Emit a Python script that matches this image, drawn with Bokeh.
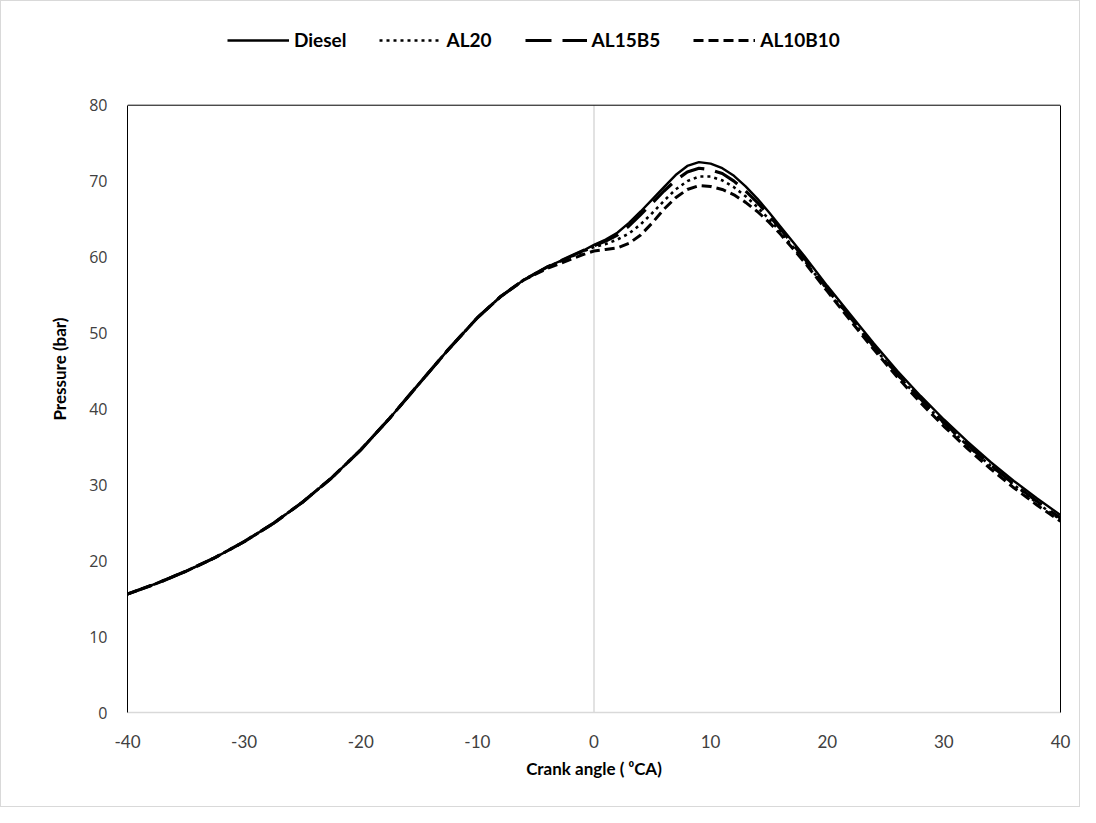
from bokeh.plotting import figure
from bokeh.models import Legend, LegendItem, Span, Range1d, FixedTicker, LinearAxis
from bokeh.embed import file_html
from bokeh.resources import INLINE

# Crank angle (deg CA) and cylinder pressure (bar)
# compression part, shared by all fuels
ca_common = [-40, -37.5, -35, -32.5, -30, -27.5, -25, -22.5, -20, -17.5, -15, -12.5, -10, -8, -6]
p_common = [15.6, 17.0, 18.6, 20.4, 22.5, 24.9, 27.7, 30.9, 34.6, 38.8, 43.3, 47.8, 52.0, 54.8, 57.0]

ca_diesel = [-4, -2, -1, 0, 1, 2, 3, 4, 5, 6, 7, 8, 9, 10, 11, 12, 13, 14, 15, 16, 18, 20, 22, 24, 26, 28, 30, 32, 34, 36, 38, 40]
p_diesel = [58.7, 60.1, 60.8, 61.6, 62.3, 63.2, 64.5, 66.0, 67.6, 69.2, 70.8, 72.0, 72.5, 72.3, 71.7, 70.7, 69.3, 67.7, 65.9, 64.0, 60.2, 56.2, 52.4, 48.6, 45.0, 41.7, 38.6, 35.7, 33.0, 30.5, 28.2, 26.0]

ca_al20 = [-4, -2, -1, 0, 1, 2, 3, 4, 5, 6, 7, 8, 9, 10, 11, 12, 13, 14, 15, 16, 18, 20, 22, 24, 26, 28, 30, 32, 34, 36, 38, 40]
p_al20 = [58.7, 60.0, 60.7, 61.3, 61.7, 62.3, 63.1, 64.3, 65.8, 67.4, 68.9, 70.0, 70.6, 70.6, 70.1, 69.2, 68.0, 66.6, 65.0, 63.3, 59.6, 55.7, 51.9, 48.1, 44.5, 41.2, 38.1, 35.2, 32.5, 30.0, 27.6, 25.4]

ca_al15b5 = [-4, -2, -1, 0, 1, 2, 3, 4, 5, 6, 7, 8, 9, 10, 11, 12, 13, 14, 15, 16, 18, 20, 22, 24, 26, 28, 30, 32, 34, 36, 38, 40]
p_al15b5 = [58.7, 60.1, 60.8, 61.5, 62.1, 62.9, 64.1, 65.6, 67.1, 68.7, 70.1, 71.2, 71.7, 71.5, 71.0, 70.0, 68.7, 67.2, 65.5, 63.7, 59.9, 55.9, 52.0, 48.2, 44.6, 41.3, 38.2, 35.3, 32.6, 30.1, 27.8, 25.6]

ca_al10b10 = [-4, -2, -1, 0, 1, 2, 3, 4, 5, 6, 7, 8, 9, 10, 11, 12, 13, 14, 15, 16, 18, 20, 22, 24, 26, 28, 30, 32, 34, 36, 38, 40]
p_al10b10 = [58.5, 59.7, 60.3, 60.8, 61.0, 61.2, 61.8, 62.9, 64.5, 66.3, 67.8, 68.9, 69.4, 69.3, 68.9, 68.2, 67.2, 66.0, 64.6, 63.0, 59.4, 55.5, 51.6, 47.8, 44.2, 40.8, 37.7, 34.8, 32.1, 29.6, 27.3, 25.2]

series_names = ["Diesel", "AL20", "AL15B5", "AL10B10"]
x_ticks = [-40, -30, -20, -10, 0, 10, 20, 30, 40]
y_ticks = [0, 10, 20, 30, 40, 50, 60, 70, 80]
Y_MIN, Y_MAX = 0, 80

FONT = "Lato"

# frame extends above y=80 to hold the legend; the plot box is drawn at 0..80
p = figure(width=1080, height=807, output_backend="svg", toolbar_location=None,
           x_range=Range1d(-40, 40), y_range=Range1d(0, 90.5),
           min_border_left=126, min_border_right=21, min_border_top=24, min_border_bottom=96)
p.styles = {"border": "1px solid #d9d9d9", "box-sizing": "border-box"}

p.xgrid.visible = False
p.ygrid.visible = False
p.outline_line_color = None
p.background_fill_color = "white"
p.border_fill_color = "white"

# vertical value axis line at x=0 (Excel style), limited to the plot box
p.segment(x0=[0], y0=[Y_MIN], x1=[0], y1=[Y_MAX], line_color="#d9d9d9", line_width=1.5)
# top edge of the plot box
p.add_layout(Span(location=Y_MAX, dimension="width", line_color="black", line_width=1))

def full(ca, pr):
    return ca_common + ca, p_common + pr

x4, y4 = full(ca_al10b10, p_al10b10)
r4 = p.line(x4, y4, line_color="black", line_width=3, line_dash="10 5")
x3, y3 = full(ca_al15b5, p_al15b5)
r3 = p.line(x3, y3, line_color="black", line_width=3.2, line_dash="26 11")
x2, y2 = full(ca_al20, p_al20)
r2 = p.line(x2, y2, line_color="black", line_width=2.6, line_dash="3 4")
x1, y1 = full(ca_diesel, p_diesel)
r1 = p.line(x1, y1, line_color="black", line_width=2.4)

legend = Legend(items=[LegendItem(label=series_names[0], renderers=[r1]),
                       LegendItem(label=series_names[1], renderers=[r2]),
                       LegendItem(label=series_names[2], renderers=[r3]),
                       LegendItem(label=series_names[3], renderers=[r4])],
                orientation="horizontal", location=(100, 661),
                label_text_font=FONT, label_text_font_style="bold",
                label_text_font_size="19px", label_text_color="black",
                glyph_width=62, glyph_height=20, label_standoff=5, spacing=33,
                border_line_color=None, background_fill_alpha=0, padding=2, margin=0)
p.add_layout(legend, "center")

# axes
for ax in (p.xaxis[0], p.yaxis[0]):
    ax.axis_label_text_font = FONT
    ax.axis_label_text_font_style = "bold"
    ax.axis_label_text_font_size = "17px"
    ax.axis_label_text_color = "black"
    ax.major_tick_line_color = None
    ax.minor_tick_line_color = None
    ax.major_label_text_color = "#404040"

p.xaxis.major_label_text_font = FONT
p.xaxis.major_label_text_font_size = "17px"
p.yaxis.major_label_text_font = "Open Sans"
p.yaxis.major_label_text_font_size = "16px"

p.xaxis.ticker = FixedTicker(ticks=x_ticks)
p.yaxis.ticker = FixedTicker(ticks=y_ticks)
p.yaxis.bounds = (Y_MIN, Y_MAX)
p.xaxis.major_label_overrides = {t: str(t) for t in x_ticks}
p.xaxis.axis_line_color = "#d9d9d9"
p.xaxis.axis_line_width = 1.5
p.yaxis.axis_line_color = "black"
p.xaxis.major_label_standoff = 16
p.yaxis.major_label_standoff = 14
p.xaxis.axis_label = "Crank angle ( \u2070CA)"
p.yaxis.axis_label = "Pressure (bar)"
p.xaxis.axis_label_standoff = 7
p.yaxis.axis_label_standoff = 16

# right edge of the plot box
right_ax = LinearAxis(bounds=(Y_MIN, Y_MAX), ticker=FixedTicker(ticks=[]),
                      axis_line_color="black", major_tick_line_color=None,
                      minor_tick_line_color=None, major_label_text_alpha=0)
p.add_layout(right_ax, "right")

open("out.html", "w").write(file_html(p, INLINE))
